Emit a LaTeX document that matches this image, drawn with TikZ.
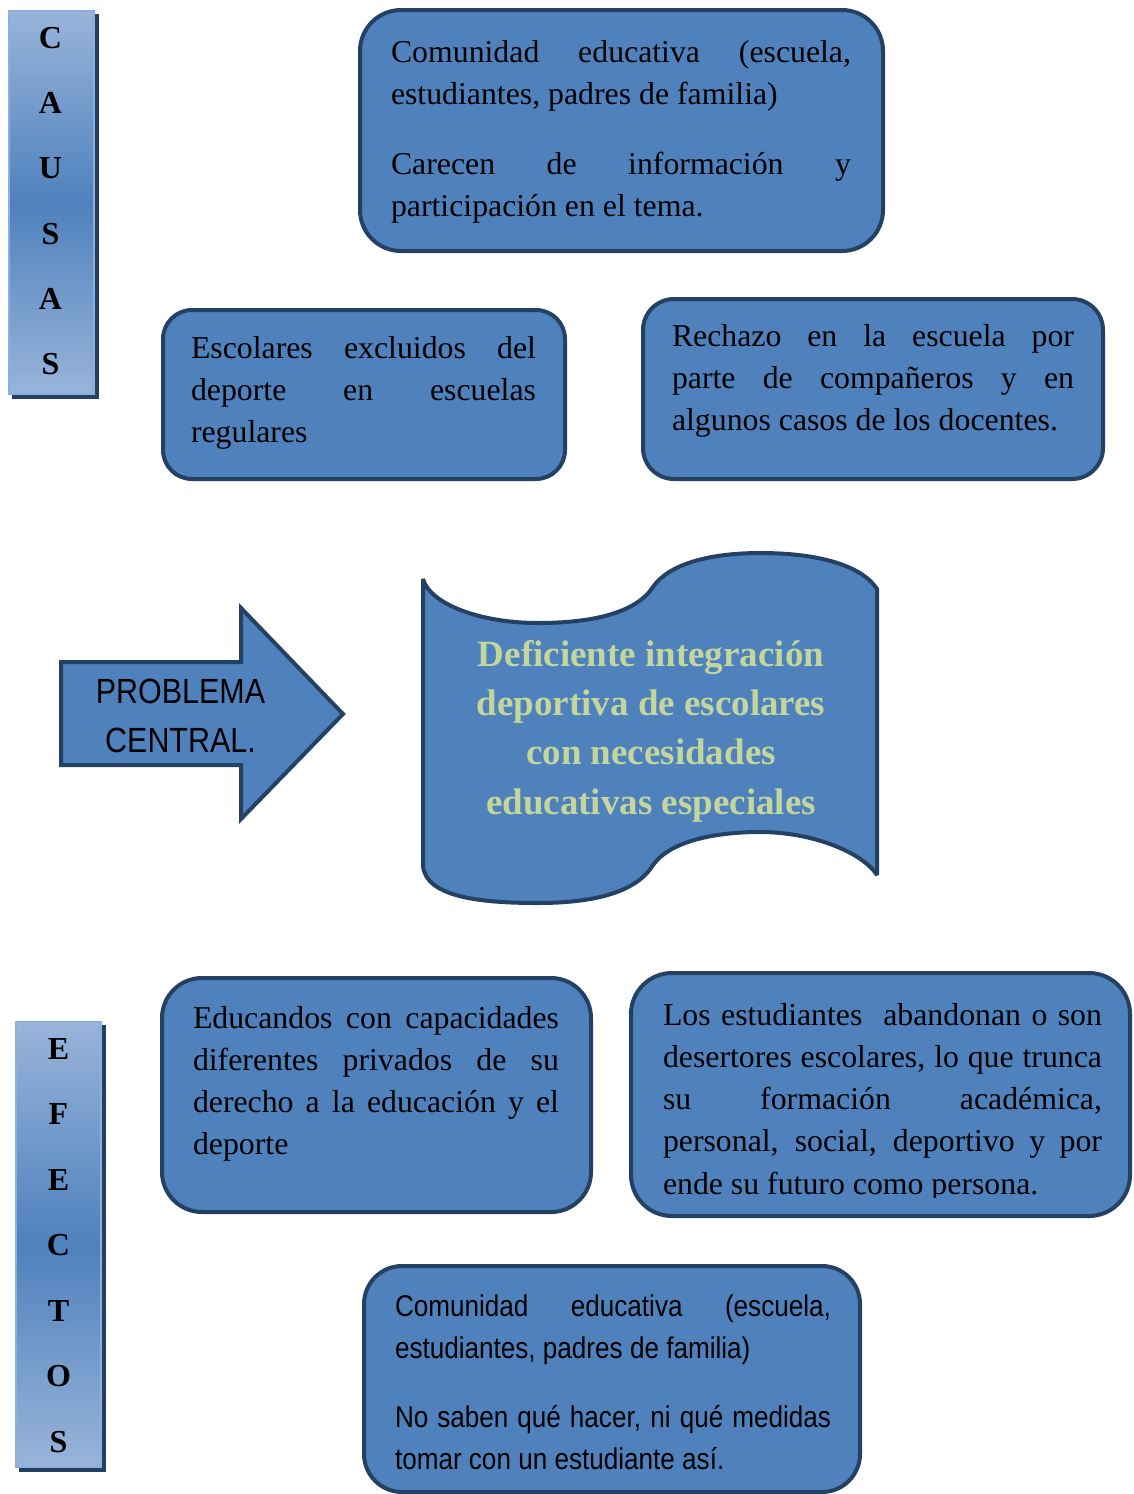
\documentclass[tikz,border=0pt]{standalone}
\usepackage{fontspec}
\setmainfont{Liberation Serif}
\newfontfamily\arialnarrow[FakeStretch=0.87]{Liberation Sans}
\definecolor{boxfill}{RGB}{79,129,189}
\definecolor{boxline}{RGB}{36,64,98}
\definecolor{barlight}{RGB}{152,180,218}
\definecolor{barborder}{RGB}{141,175,221}
\definecolor{barshadow}{RGB}{37,64,97}
\definecolor{titlegreen}{RGB}{195,214,155}
\tolerance=10000
\hyphenpenalty=10000
\exhyphenpenalty=10000
\hbadness=10000
\begin{document}
\begin{tikzpicture}[x=1pt,y=-1pt,
  roundbox/.style={draw=boxline, fill=boxfill, line width=4pt, rectangle, inner sep=0pt, outer sep=0pt},
  shapeline/.style={draw=boxline, fill=boxfill, line width=4pt, line join=miter},
  bodytext/.style={anchor=base west, inner sep=0pt, outer sep=0pt, align=justify,
    font=\fontsize{31.8}{42.3}\selectfont},
  sanstext/.style={anchor=base west, inner sep=0pt, outer sep=0pt, align=justify,
    font=\arialnarrow\fontsize{30}{42}\selectfont},
  barshape/.style={rectangle, draw=barborder, line width=2pt, top color=barlight,
    bottom color=barlight, middle color=boxfill, inner sep=0pt, minimum width=85pt},
  barletter/.style={inner sep=0pt, font=\bfseries\fontsize{32}{32}\selectfont}]
\useasboundingbox (0,0) rectangle (1133,1494);

% ---- CAUSAS bar ----
\fill[barshadow] (12,14) rectangle (99,399);
\node[barshape, minimum height=383pt] (causas) at (51.5,202.5) {};
\foreach \l [count=\i] in {C,A,U,S,A,S}
  \node[barletter] (cl\i) at (50.5,{38+65.2*(\i-1)}) {\l};

% ---- EFECTOS bar ----
\fill[barshadow] (19,1025) rectangle (106,1472);
\node[barshape, minimum height=445pt] (efectos) at (58.5,1244.5) {};
\foreach \l [count=\i] in {E,F,E,C,T,O,S}
  \node[barletter] (el\i) at (58.5,{1049+65.5*(\i-1)}) {\l};

% ---- cause boxes ----
\node[roundbox, minimum width=523pt, minimum height=241pt, rounded corners=41pt] (topbox) at (621.5,130.5) {};
\node[bodytext, text width=460pt] (toptext) at (391,62)
  {Comunidad educativa (escuela,\linebreak estudiantes, padres de familia)\par\vspace{28pt}Carecen de información y\linebreak participación en el tema.};

\node[roundbox, minimum width=402pt, minimum height=169pt, rounded corners=29pt] (leftbox) at (364,394.5) {};
\node[bodytext, text width=345pt] (lefttext) at (191,358)
  {Escolares excluidos del\linebreak deporte en escuelas\linebreak regulares};

\node[roundbox, minimum width=460pt, minimum height=180pt, rounded corners=31pt] (rightbox) at (873,389) {};
\node[bodytext, text width=402pt] (righttext) at (672,346)
  {Rechazo en la escuela por\linebreak parte de compañeros y en\linebreak algunos casos de los docentes.};

% ---- central problem ----
\draw[shapeline] (61,662) -- (241,662) -- (241,608) -- (343,714) -- (241,819) -- (241,765) -- (61,765) -- cycle;
\node[font=\arialnarrow\fontsize{35}{49}\selectfont, align=center, inner sep=0pt] (problema) at (180.5,716) {PROBLEMA\\CENTRAL.};

\draw[shapeline, miter limit=2] (423,579) .. controls (430,604) and (480,623) .. (538,623)
  .. controls (592,623) and (636,613) .. (653,587)
  .. controls (671,561) and (718,553) .. (760,553)
  .. controls (820,553) and (862,566) .. (877,589)
  -- (877,875)
  .. controls (862,852) and (812,832) .. (760,832)
  .. controls (718,832) and (671,840) .. (653,865)
  .. controls (636,893) and (592,903) .. (538,903)
  .. controls (480,903) and (426,897) .. (423,866) -- cycle;
\node[font=\bfseries\fontsize{37}{49.3}\selectfont, text=titlegreen, align=center, inner sep=0pt] (titulo) at (651,731)
  {Deficiente integración\\deportiva de escolares\\con necesidades\\educativas especiales};

% ---- effect boxes ----
\node[roundbox, minimum width=429pt, minimum height=234pt, rounded corners=40pt] (effleft) at (376.5,1095) {};
\node[bodytext, text width=366pt] (effletext) at (193,1028)
  {Educandos con capacidades\linebreak diferentes privados de su\linebreak derecho a la educación y el\linebreak deporte};

\node[roundbox, minimum width=499pt, minimum height=243pt, rounded corners=41pt] (effright) at (880.5,1094.5) {};
\begin{scope}
  \clip (629,960) rectangle (1133,1197);
  \node[bodytext, text width=439pt] (effrtext) at (663,1025)
    {Los estudiantes\ \ abandonan o son\linebreak desertores escolares, lo que trunca\linebreak su formación académica,\linebreak personal, social, deportivo y por\linebreak ende su futuro como persona.};
\end{scope}

\node[roundbox, minimum width=496pt, minimum height=226pt, rounded corners=38pt] (effbottom) at (612,1379) {};
\node[sanstext, text width=436pt] (effbtext) at (395,1316)
  {Comunidad educativa (escuela,\linebreak estudiantes, padres de familia)\par\vspace{27pt}No saben qué hacer, ni qué medidas\linebreak tomar con un estudiante así.};
\end{tikzpicture}
\end{document}
